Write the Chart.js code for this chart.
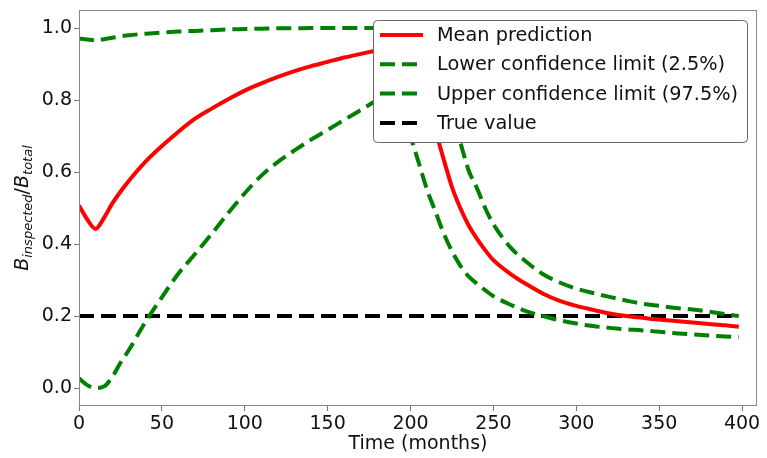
<!DOCTYPE html>
<html>
<head>
<meta charset="utf-8">
<script src="https://cdn.jsdelivr.net/npm/chart.js@4/dist/chart.umd.min.js"></script>
<style>
  html, body { margin: 0; padding: 0; background: #fff; }
</style>
</head>
<body>
<canvas id="bChart" width="767" height="458"></canvas>
<script>
const months = [0, 5, 10, 15, 20, 25, 30, 40, 50, 60, 70, 80, 90, 100, 110, 120, 130, 140, 150, 160,
  170, 180, 185, 190, 195, 200, 205, 210, 215, 220, 225, 230, 235, 240, 245, 250, 260, 270, 280, 290,
  300, 310, 320, 330, 340, 350, 360, 370, 380, 390, 398];

const meanPrediction = [0.507, 0.468, 0.442, 0.472, 0.512, 0.545, 0.575, 0.628, 0.672, 0.712, 0.748, 0.776,
  0.802, 0.826, 0.846, 0.864, 0.880, 0.894, 0.906, 0.918, 0.928, 0.938, 0.943, 0.944, 0.932, 0.902, 0.858,
  0.795, 0.715, 0.635, 0.558, 0.500, 0.452, 0.415, 0.383, 0.355, 0.318, 0.288, 0.262, 0.242, 0.228, 0.217,
  0.207, 0.200, 0.195, 0.190, 0.186, 0.182, 0.178, 0.174, 0.170];

const lowerLimit = [0.027, 0.008, 0.000, 0.004, 0.030, 0.070, 0.105, 0.183, 0.252, 0.318, 0.372, 0.428,
  0.486, 0.541, 0.590, 0.628, 0.660, 0.690, 0.717, 0.745, 0.772, 0.800, 0.810, 0.800, 0.765, 0.698, 0.625,
  0.550, 0.490, 0.430, 0.380, 0.340, 0.310, 0.290, 0.272, 0.255, 0.232, 0.213, 0.200, 0.188, 0.179, 0.172,
  0.167, 0.163, 0.160, 0.156, 0.152, 0.149, 0.146, 0.143, 0.141];

const upperLimit = [0.971, 0.968, 0.966, 0.969, 0.973, 0.977, 0.980, 0.984, 0.987, 0.990, 0.992, 0.994,
  0.996, 0.997, 0.998, 0.999, 0.999, 1.000, 1.000, 1.000, 1.000, 1.000, 1.000, 1.000, 1.000, 1.000, 0.990,
  0.960, 0.910, 0.840, 0.760, 0.683, 0.605, 0.556, 0.500, 0.455, 0.392, 0.350, 0.316, 0.293, 0.276, 0.264,
  0.253, 0.243, 0.234, 0.228, 0.222, 0.218, 0.212, 0.205, 0.200];

const trueMonths = [0, 398];
const trueValue = [0.2, 0.2];

const xTicks = [0, 50, 100, 150, 200, 250, 300, 350, 400];
const yTicks = [0.0, 0.2, 0.4, 0.6, 0.8, 1.0];

const FONT = '"DejaVu Sans", sans-serif';
const pts = (xs, ys) => xs.map((x, i) => ({ x: x, y: ys[i] }));

// frame, legend box and the mathtext-like y label
const extras = {
  id: 'extras',
  afterDraw(chart) {
    const { ctx, chartArea: a } = chart;
    ctx.save();
    ctx.strokeStyle = '#888';
    ctx.lineWidth = 1;
    ctx.setLineDash([]);
    ctx.strokeRect(a.left + 0.5, a.top + 0.5, a.right - a.left - 1, a.bottom - a.top - 1);

    // legend
    ctx.font = '19.3px ' + FONT;
    const items = chart.data.datasets;
    let tw = 0;
    items.forEach(d => { tw = Math.max(tw, ctx.measureText(d.label).width); });
    const w = 7 + 43 + 14 + tw + 9, h = 122;
    const x0 = a.right - 10 - w, y0 = a.top + 10;
    ctx.beginPath();
    ctx.roundRect(x0 + 0.5, y0 + 0.5, w, h, 4);
    ctx.fillStyle = '#fff';
    ctx.fill();
    ctx.strokeStyle = '#666';
    ctx.stroke();
    items.forEach((d, i) => {
      const cy = y0 + 15 + i * 29.3;
      ctx.beginPath();
      ctx.setLineDash(d.borderDash || []);
      ctx.strokeStyle = d.borderColor;
      ctx.lineWidth = d.borderWidth;
      ctx.moveTo(x0 + 7, cy);
      ctx.lineTo(x0 + 50, cy);
      ctx.stroke();
      ctx.setLineDash([]);
      ctx.fillStyle = '#111';
      ctx.textBaseline = 'middle';
      ctx.textAlign = 'left';
      ctx.fillText(d.label, x0 + 64, cy + 1);
    });

    // y axis title: B_inspected / B_total
    const parts = [
      { t: 'B', f: 'italic 19px ' + FONT, dy: 0 },
      { t: 'inspected', f: 'italic 13px ' + FONT, dy: 4 },
      { t: '/', f: '19px ' + FONT, dy: 0 },
      { t: 'B', f: 'italic 19px ' + FONT, dy: 0 },
      { t: 'total', f: 'italic 13px ' + FONT, dy: 4 }
    ];
    let total = 0;
    parts.forEach(p => { ctx.font = p.f; p.w = ctx.measureText(p.t).width; total += p.w; });
    ctx.translate(28, (a.top + a.bottom) / 2);
    ctx.rotate(-Math.PI / 2);
    ctx.textBaseline = 'alphabetic';
    ctx.fillStyle = '#111';
    let px = -total / 2;
    parts.forEach(p => { ctx.font = p.f; ctx.fillText(p.t, px, p.dy); px += p.w; });
    ctx.restore();
  }
};

new Chart(document.getElementById('bChart'), {
  type: 'line',
  data: {
    datasets: [{
      label: 'Mean prediction',
      data: pts(months, meanPrediction),
      borderColor: '#ff0000',
      borderWidth: 4,
      borderDash: []
    }, {
      label: 'Lower confidence limit (2.5%)',
      data: pts(months, lowerLimit),
      borderColor: '#008000',
      borderWidth: 4,
      borderDash: [15, 7]
    }, {
      label: 'Upper confidence limit (97.5%)',
      data: pts(months, upperLimit),
      borderColor: '#008000',
      borderWidth: 4,
      borderDash: [15, 7]
    }, {
      label: 'True value',
      data: pts(trueMonths, trueValue),
      borderColor: '#000000',
      borderWidth: 4,
      borderDash: [15, 7]
    }]
  },
  options: {
    responsive: false,
    animation: false,
    layout: { padding: { left: 0, right: 10, top: 10, bottom: 0 } },
    elements: {
      point: { radius: 0 },
      line: { cubicInterpolationMode: 'monotone', fill: false, borderCapStyle: 'butt' }
    },
    plugins: {
      legend: { display: false },
      tooltip: { enabled: false }
    },
    scales: {
      x: {
        type: 'linear',
        min: 0,
        max: 409,
        afterBuildTicks: s => { s.ticks = xTicks.map(v => ({ value: v })); },
        afterFit: s => { s.height = 52; s.paddingLeft = 0; s.paddingRight = 0; },
        ticks: { font: { family: FONT, size: 19 }, color: '#111', padding: 2, maxRotation: 0, autoSkip: false },
        grid: { drawOnChartArea: false, tickLength: 5, color: '#777' },
        border: { display: false },
        title: { display: true, text: 'Time (months)', font: { family: FONT, size: 19 }, color: '#111', padding: { top: 0, bottom: 3 } }
      },
      y: {
        min: -0.05,
        max: 1.05,
        afterBuildTicks: s => { s.ticks = yTicks.map(v => ({ value: v })); },
        afterFit: s => { s.width = 79; s.paddingTop = 0; s.paddingBottom = 0; },
        ticks: { font: { family: FONT, size: 19 }, color: '#111', padding: 2, callback: v => v.toFixed(1) },
        grid: { drawOnChartArea: false, tickLength: 5, color: '#777' },
        border: { display: false }
      }
    }
  },
  plugins: [extras]
});
</script>
</body>
</html>
